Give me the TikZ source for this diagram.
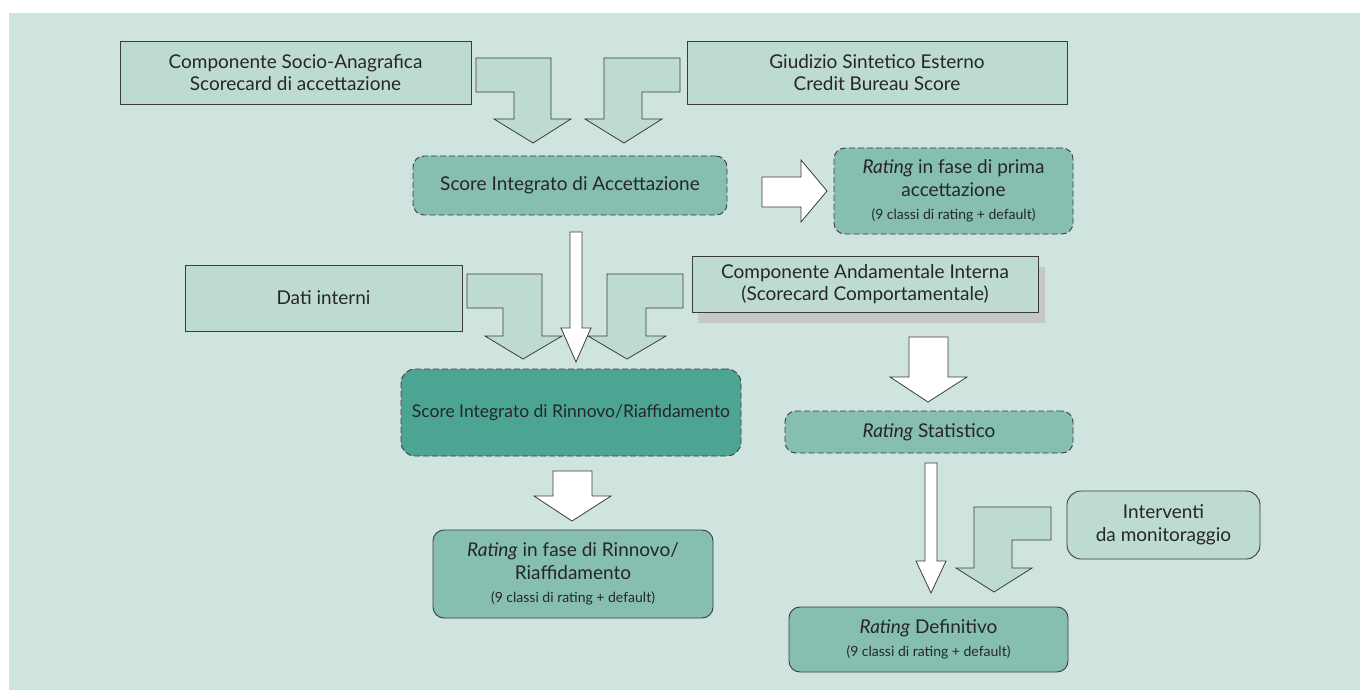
\documentclass[tikz,border=0pt]{standalone}
\usepackage{fontspec}
\setmainfont{Lato}
\definecolor{bgc}{HTML}{CFE4DE}
\definecolor{lightc}{HTML}{BEDBD3}
\definecolor{medc}{HTML}{86BFB2}
\definecolor{darkc}{HTML}{4CA593}
\definecolor{linec}{HTML}{3C3C3C}
\definecolor{shadc}{HTML}{C5C7C9}
\newcommand{\mainsz}{\fontsize{19}{22.5}\selectfont}
\newcommand{\smallsz}{\fontsize{14}{16}\selectfont}
\begin{document}
\begin{tikzpicture}[x=1pt,y=-1pt,
  boxbase/.style={draw=linec,line width=0.9pt,align=center,inner sep=0pt,text=black!85,font=\mainsz},
  lbox/.style={boxbase,fill=lightc},
  mbox/.style={boxbase,fill=medc,rounded corners=11pt},
  dbox/.style={boxbase,fill=darkc,rounded corners=14pt},
  dashbox/.style={dash pattern=on 6pt off 3pt},
  larrow/.style={draw=linec,line width=0.8pt,fill=lightc},
  warrow/.style={draw=linec,line width=0.8pt,fill=white},
]
\useasboundingbox (0,0) rectangle (1360,690);
\fill[white] (0,0) rectangle (1360,690);
\fill[bgc] (9,13) rectangle (1360,690);

% boxes
\node[lbox,minimum width=351pt,minimum height=63pt] (b1) at (295.5,72.5) {Componente Socio-Anagrafica\\Scorecard di accettazione};
\node[lbox,minimum width=380pt,minimum height=63pt] (b2) at (877,72.5) {Giudizio Sintetico Esterno\\Credit Bureau Score};
\node[mbox,dashbox,minimum width=314pt,minimum height=59pt] (sacc) at (570,185.5) {Score Integrato di Accettazione};
\node[mbox,dashbox,minimum width=239pt,minimum height=86pt] (rprima) at (953.5,191) {\textit{Rating} in fase di prima\\accettazione\\[1pt]{\smallsz (9 classi di rating + default)}};
\node[lbox,minimum width=277pt,minimum height=66pt] (dati) at (323.5,298) {Dati interni};
\fill[shadc] (698,267) rectangle (1045,323);
\node[lbox,minimum width=346pt,minimum height=56pt] (anda) at (865,284) {Componente Andamentale Interna\\(Scorecard Comportamentale)};
\node[dbox,dashbox,minimum width=340pt,minimum height=87pt,font=\fontsize{17.5}{21}\selectfont] (srin) at (571,412.5) {Score Integrato di Rinnovo/Riaffidamento};
\node[mbox,dashbox,minimum width=288pt,minimum height=42pt] (rstat) at (929,432) {\textit{Rating} Statistico};
\node[mbox,minimum width=280pt,minimum height=88pt] (rrin) at (573,574) {\textit{Rating} in fase di Rinnovo/\\Riaffidamento\\[1pt]{\smallsz (9 classi di rating + default)}};
\node[lbox,rounded corners=14pt,minimum width=193pt,minimum height=68pt] (interv) at (1163.5,525) {Interventi\\da monitoraggio};
\node[mbox,minimum width=279pt,minimum height=65pt] (rdef) at (928.5,639.5) {\textit{Rating} Definitivo\\[1pt]{\smallsz (9 classi di rating + default)}};

% block arrows
\draw[larrow] (476,58) -- (551,58) -- (551,119) -- (571,119) -- (533,143) -- (494,119) -- (514,119) -- (514,92) -- (476,92) -- cycle;
\draw[larrow] (680,58) -- (604,58) -- (604,119) -- (585,119) -- (624,143) -- (662,119) -- (642,119) -- (642,92) -- (680,92) -- cycle;
\draw[warrow] (762,177) -- (801,177) -- (801,160) -- (827,191) -- (801,222) -- (801,207) -- (762,207) -- cycle;
\draw[larrow] (467,274) -- (542,274) -- (542,336) -- (562,336) -- (523,359) -- (485,336) -- (503,336) -- (503,308) -- (467,308) -- cycle;
\draw[larrow] (683,274) -- (607,274) -- (607,336) -- (588,336) -- (627,359) -- (666,336) -- (646,336) -- (646,308) -- (683,308) -- cycle;
\draw[warrow] (570,232) -- (582,232) -- (582,328) -- (591,328) -- (576,362) -- (561,328) -- (570,328) -- cycle;
\draw[warrow] (909,337) -- (948,337) -- (948,377) -- (967,377) -- (928,402) -- (890,377) -- (909,377) -- cycle;
\draw[warrow] (553,471) -- (592,471) -- (592,496) -- (611,496) -- (572,521) -- (534,496) -- (553,496) -- cycle;
\draw[warrow] (925,463) -- (937,463) -- (937,561) -- (946,561) -- (931,593) -- (916,561) -- (925,561) -- cycle;
\draw[larrow] (1051,507) -- (974,507) -- (974,568) -- (956,568) -- (994,592) -- (1032,568) -- (1012,568) -- (1012,540) -- (1051,540) -- cycle;
\end{tikzpicture}
\end{document}
